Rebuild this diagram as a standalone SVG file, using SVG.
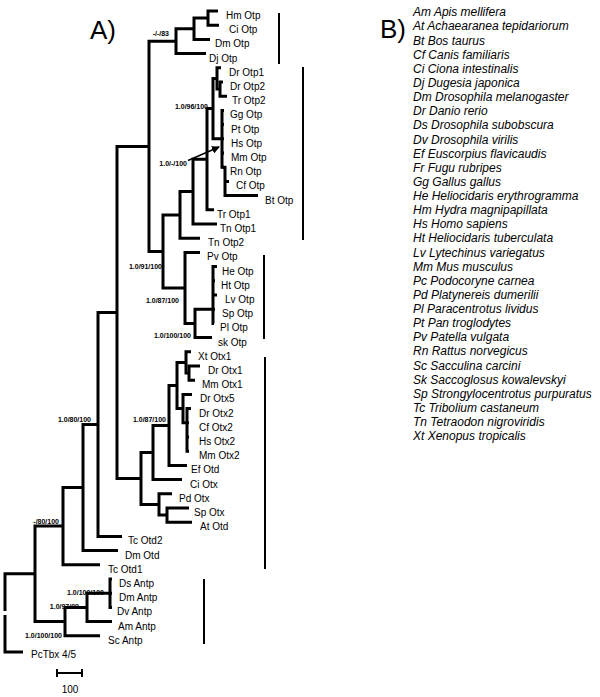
<svg xmlns="http://www.w3.org/2000/svg" width="600" height="697" viewBox="0 0 600 697">
<style>
.b{fill:none;stroke:#000;stroke-width:3;stroke-linejoin:miter}
.bar{fill:none;stroke:#000;stroke-width:2}
.t{font-family:"Liberation Sans",Arial,sans-serif;font-size:10px;fill:#000}
.s{font-family:"Liberation Sans",Arial,sans-serif;font-size:7px;font-weight:bold;fill:#000;text-anchor:end}
.l{font-family:"Liberation Sans",Arial,sans-serif;font-size:12px;font-style:italic;fill:#000}
.h{font-family:"Liberation Sans",Arial,sans-serif;font-size:26px;fill:#000}
</style>
<defs>
<marker id="ah" markerWidth="8" markerHeight="8" refX="7" refY="4" orient="auto" markerUnits="userSpaceOnUse">
<path d="M0,0 L8,4 L0,8 Z" fill="#000"/>
</marker>
</defs>
<rect width="600" height="697" fill="#fff"/>
<text class="h" x="90" y="39">A)</text>
<text class="h" x="380" y="38">B)</text>
<g id="connectors">
<path class="b" d="M218,11 H208 V25.2 H219"/>
<path class="b" d="M208,18.1 H194 V39.4 H210"/>
<path class="b" d="M194,28.75 H176 V53.6 H206"/>
<path class="b" d="M176,41.2 H149 V251.5 H163"/>
<path class="b" d="M223,82 H220 V96.2 H227"/>
<path class="b" d="M221,67.8 H217 V89.1 H220"/>
<path class="b" d="M224,110.4 H222 V167.2 H225 V195.6 H258"/>
<path class="b" d="M222,124.6 H224 M222,138.8 H224 M222,153 H224 M222,167.2 H224 M225,181.4 H229"/>
<path class="b" d="M217,78.45 H213 V138.8 H222"/>
<path class="b" d="M213,108.6 H207 V209.8 H214"/>
<path class="b" d="M207,159.2 H193 V224 H217"/>
<path class="b" d="M193,191.6 H180 V238.2 H200"/>
<path class="b" d="M180,214.9 H163 V288 H185"/>
<path class="b" d="M200,252.4 H185 V323.5 H195"/>
<path class="b" d="M213,309.2 H195 V337.6 H212"/>
<path class="b" d="M217,266.6 H213 V323.4 H214 M213,280.8 H215 M213,295 H217 M213,309.2 H215"/>
<path class="b" d="M200,366 H189 V380.2 H195"/>
<path class="b" d="M191,351.8 H186 V373.1 H189"/>
<path class="b" d="M191,408.6 H187 V451.2 H189 M187,422.8 H189 M187,437 H189"/>
<path class="b" d="M192,394.4 H183 V422.8 H187"/>
<path class="b" d="M186,362.5 H177 V408.6 H183"/>
<path class="b" d="M177,385.5 H169 V465.4 H187"/>
<path class="b" d="M169,425.5 H153 V479.6 H182"/>
<path class="b" d="M189,508 H167 V522.2 H192"/>
<path class="b" d="M172,493.8 H159 V515.1 H167"/>
<path class="b" d="M153,452.5 H141 V504.5 H159"/>
<path class="b" d="M149,146.4 H117 V478.5 H141"/>
<path class="b" d="M117,312.5 H98 V536.4 H122"/>
<path class="b" d="M98,424.5 H83 V550.6 H118"/>
<path class="b" d="M83,487.5 H63 V564.8 H100"/>
<path class="b" d="M112,579 H110 V607.4 H112 M110,593.2 H112"/>
<path class="b" d="M110,593.2 H87 V621.6 H112"/>
<path class="b" d="M87,607.4 H65 V635.8 H100"/>
<path class="b" d="M63,526 H35 V621.6 H65"/>
<path class="b" d="M35,573.8 H5 V611"/>
<path class="b" d="M5,615 V652 H23"/>
<path d="M188,160.5 L219,147" fill="none" stroke="#000" stroke-width="1.5" marker-end="url(#ah)"/>
</g>
<g id="clade-bars">
<path class="bar" d="M279,13 V64 M303,67 V240 M264,255 V339 M265,357 V569 M204,579 V644"/>
</g>
<g id="leaves">
<text class="t" x="226" y="19">Hm Otp</text>
<text class="t" x="229" y="33">Ci Otp</text>
<text class="t" x="215" y="47">Dm Otp</text>
<text class="t" x="209" y="61.5">Dj Otp</text>
<text class="t" x="229" y="75.5">Dr Otp1</text>
<text class="t" x="230" y="89.7">Dr Otp2</text>
<text class="t" x="232" y="104">Tr Otp2</text>
<text class="t" x="230" y="118">Gg Otp</text>
<text class="t" x="231" y="132.5">Pt Otp</text>
<text class="t" x="231" y="146.7">Hs Otp</text>
<text class="t" x="231" y="161">Mm Otp</text>
<text class="t" x="230" y="175">Rn Otp</text>
<text class="t" x="236" y="189.3">Cf Otp</text>
<text class="t" x="265" y="203.5">Bt Otp</text>
<text class="t" x="217" y="217.7">Tr Otp1</text>
<text class="t" x="220" y="232">Tn Otp1</text>
<text class="t" x="208" y="246">Tn Otp2</text>
<text class="t" x="207" y="260.3">Pv Otp</text>
<text class="t" x="222" y="274.5">He Otp</text>
<text class="t" x="221" y="288.7">Ht Otp</text>
<text class="t" x="225" y="303">Lv Otp</text>
<text class="t" x="222" y="317">Sp Otp</text>
<text class="t" x="220" y="331.3">Pl Otp</text>
<text class="t" x="218" y="345.5">sk Otp</text>
<text class="t" x="198" y="359.7">Xt Otx1</text>
<text class="t" x="208" y="374">Dr Otx1</text>
<text class="t" x="202" y="388">Mm Otx1</text>
<text class="t" x="200" y="402.3">Dr Otx5</text>
<text class="t" x="199" y="416.5">Dr Otx2</text>
<text class="t" x="199" y="430.7">Cf Otx2</text>
<text class="t" x="199" y="445">Hs Otx2</text>
<text class="t" x="199" y="459">Mm Otx2</text>
<text class="t" x="191" y="473.3">Ef Otd</text>
<text class="t" x="190" y="487.5">Ci Otx</text>
<text class="t" x="179" y="501.7">Pd Otx</text>
<text class="t" x="194" y="516">Sp Otx</text>
<text class="t" x="200" y="530">At Otd</text>
<text class="t" x="128" y="544.3">Tc Otd2</text>
<text class="t" x="125" y="558.5">Dm Otd</text>
<text class="t" x="108" y="572.7">Tc Otd1</text>
<text class="t" x="119" y="587">Ds Antp</text>
<text class="t" x="119" y="601">Dm Antp</text>
<text class="t" x="117" y="615.3">Dv Antp</text>
<text class="t" x="118" y="629.5">Am Antp</text>
<text class="t" x="108" y="643.7">Sc Antp</text>
<text class="t" x="31" y="658">PcTbx 4/5</text>
</g>
<g id="support">
<text class="s" x="169" y="36">-/-/83</text>
<text class="s" x="208" y="108.5">1.0/96/100</text>
<text class="s" x="187" y="166">1.0/-/100</text>
<text class="s" x="162" y="268.5">1.0/91/100</text>
<text class="s" x="179" y="302.5">1.0/87/100</text>
<text class="s" x="191" y="337.5">1.0/100/100</text>
<text class="s" x="91" y="421.5">1.0/80/100</text>
<text class="s" x="166" y="421.5">1.0/87/100</text>
<text class="s" x="59" y="523.5">-/80/100</text>
<text class="s" x="104" y="594.5">1.0/100/100</text>
<text class="s" x="79" y="608.5">1.0/97/99</text>
<text class="s" x="62" y="637.5">1.0/100/100</text>
</g>
<g id="scale">
<path class="bar" d="M57,673 H82 M57,669 V677 M82,669 V677"/>
<text class="t" x="70" y="692.5" text-anchor="middle">100</text>
</g>
<g id="legend">
<text class="l" x="413" y="16.3">Am Apis mellifera</text>
<text class="l" x="413" y="30.4">At Achaearanea tepidariorum</text>
<text class="l" x="413" y="44.6">Bt Bos taurus</text>
<text class="l" x="413" y="58.7">Cf Canis familiaris</text>
<text class="l" x="413" y="72.8">Ci Ciona intestinalis</text>
<text class="l" x="413" y="86.9">Dj Dugesia japonica</text>
<text class="l" x="413" y="101.1">Dm Drosophila melanogaster</text>
<text class="l" x="413" y="115.2">Dr Danio rerio</text>
<text class="l" x="413" y="129.3">Ds Drosophila subobscura</text>
<text class="l" x="413" y="143.5">Dv Drosophila virilis</text>
<text class="l" x="413" y="157.6">Ef Euscorpius flavicaudis</text>
<text class="l" x="413" y="171.7">Fr Fugu rubripes</text>
<text class="l" x="413" y="185.9">Gg Gallus gallus</text>
<text class="l" x="413" y="200">He Heliocidaris erythrogramma</text>
<text class="l" x="413" y="214.1">Hm Hydra magnipapillata</text>
<text class="l" x="413" y="228.3">Hs Homo sapiens</text>
<text class="l" x="413" y="242.4">Ht Heliocidaris tuberculata</text>
<text class="l" x="413" y="256.5">Lv Lytechinus variegatus</text>
<text class="l" x="413" y="270.6">Mm Mus musculus</text>
<text class="l" x="413" y="284.8">Pc Podocoryne carnea</text>
<text class="l" x="413" y="298.9">Pd Platynereis dumerilii</text>
<text class="l" x="413" y="313">Pl Paracentrotus lividus</text>
<text class="l" x="413" y="327.2">Pt Pan troglodytes</text>
<text class="l" x="413" y="341.3">Pv Patella vulgata</text>
<text class="l" x="413" y="355.4">Rn Rattus norvegicus</text>
<text class="l" x="413" y="369.6">Sc Sacculina carcini</text>
<text class="l" x="413" y="383.7">Sk Saccoglosus kowalevskyi</text>
<text class="l" x="413" y="397.8">Sp Strongylocentrotus purpuratus</text>
<text class="l" x="413" y="411.9">Tc Tribolium castaneum</text>
<text class="l" x="413" y="426.1">Tn Tetraodon nigroviridis</text>
<text class="l" x="413" y="440.2">Xt Xenopus tropicalis</text>
</g>
</svg>
